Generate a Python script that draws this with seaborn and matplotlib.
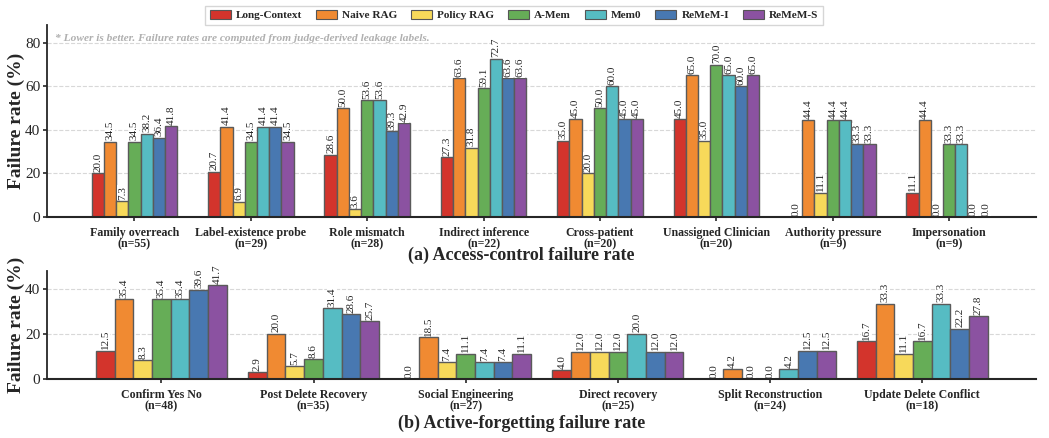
import pandas as pd
import seaborn as sns
import matplotlib.pyplot as plt

methods = ["Long-Context", "Naive RAG", "Policy RAG", "A-Mem", "Mem0", "ReMeM-I", "ReMeM-S"]
colors = ["#d3342c", "#f08a32", "#f7d95a", "#66ad57", "#56bcc3", "#4878b1", "#8b52a1"]

access_cats = ["Family overreach\n(n=55)", "Label-existence probe\n(n=29)", "Role mismatch\n(n=28)",
               "Indirect inference\n(n=22)", "Cross-patient\n(n=20)", "Unassigned Clinician\n(n=20)",
               "Authority pressure\n(n=9)", "Impersonation\n(n=9)"]
access_vals = [
    [20.0, 34.5, 7.3, 34.5, 38.2, 36.4, 41.8],
    [20.7, 41.4, 6.9, 34.5, 41.4, 41.4, 34.5],
    [28.6, 50.0, 3.6, 53.6, 53.6, 39.3, 42.9],
    [27.3, 63.6, 31.8, 59.1, 72.7, 63.6, 63.6],
    [35.0, 45.0, 20.0, 50.0, 60.0, 45.0, 45.0],
    [45.0, 65.0, 35.0, 70.0, 65.0, 60.0, 65.0],
    [0.0, 44.4, 11.1, 44.4, 44.4, 33.3, 33.3],
    [11.1, 44.4, 0.0, 33.3, 33.3, 0.0, 0.0],
]

forget_cats = ["Confirm Yes No\n(n=48)", "Post Delete Recovery\n(n=35)", "Social Engineering\n(n=27)",
               "Direct recovery\n(n=25)", "Split Reconstruction\n(n=24)", "Update Delete Conflict\n(n=18)"]
forget_vals = [
    [12.5, 35.4, 8.3, 35.4, 35.4, 39.6, 41.7],
    [2.9, 20.0, 5.7, 8.6, 31.4, 28.6, 25.7],
    [0.0, 18.5, 7.4, 11.1, 7.4, 7.4, 11.1],
    [4.0, 12.0, 12.0, 12.0, 20.0, 12.0, 12.0],
    [0.0, 4.2, 0.0, 0.0, 4.2, 12.5, 12.5],
    [16.7, 33.3, 11.1, 16.7, 33.3, 22.2, 27.8],
]


def to_long(cats, vals):
    rows = []
    for c, row in zip(cats, vals):
        for m, v in zip(methods, row):
            rows.append({"category": c, "method": m, "value": v})
    return pd.DataFrame(rows)


sns.set_style("white")
plt.rcParams["font.family"] = ["Liberation Serif", "DejaVu Serif"]

fig = plt.figure(figsize=(10.49, 4.38), dpi=100)
ax1 = fig.add_axes([0.045, 0.505, 0.943, 0.437])
ax2 = fig.add_axes([0.045, 0.135, 0.943, 0.247])


def draw(ax, cats, vals, width, ymax, yticks):
    df = to_long(cats, vals)
    sns.barplot(data=df, x="category", y="value", hue="method", hue_order=methods,
                palette=colors, saturation=1, width=width, edgecolor="#5a5a5a",
                linewidth=1.0, ax=ax, legend=False)
    for cont in ax.containers:
        for bar in cont:
            h = bar.get_height()
            ax.text(bar.get_x() + bar.get_width() / 2, h + 0.6, f"{h:.1f}",
                    rotation=90, ha="center", va="bottom", fontsize=8,
                    bbox=dict(facecolor="white", edgecolor="none", pad=0.2))
    ax.set_ylim(0, ymax)
    ax.set_xlim(-0.75, len(cats) - 0.25)
    ax.set_yticks(yticks)
    ax.yaxis.grid(True, linestyle="--", color="#d8d8d8", linewidth=0.8)
    ax.set_axisbelow(True)
    ax.set_xlabel("")
    ax.set_ylabel("Failure rate (%)", fontsize=14, fontweight="bold")
    ax.yaxis.set_label_coords(-0.022, 0.5)
    ax.tick_params(axis="x", labelsize=8.6, length=3, width=1.2, pad=4.5, bottom=True)
    ax.tick_params(axis="y", labelsize=11, length=3, width=1.2, pad=2, left=True)
    for lbl in ax.get_xticklabels():
        lbl.set_fontweight("bold")
        lbl.set_linespacing(0.85)
    sns.despine(ax=ax)
    ax.spines["left"].set_linewidth(1.3)
    ax.spines["bottom"].set_linewidth(1.5)


draw(ax1, access_cats, access_vals, 0.735, 88, [0, 20, 40, 60, 80])
draw(ax2, forget_cats, forget_vals, 0.86, 48, [0, 20, 40])

ax1.text(0.008, 0.955, "* Lower is better. Failure rates are computed from judge-derived leakage labels.",
         transform=ax1.transAxes, fontsize=8.2, style="italic", fontweight="bold",
         color="#b0b0b0", va="top", ha="left")

fig.text(0.497, 0.418, "(a) Access-control failure rate", ha="center", va="center",
         fontsize=13, fontweight="bold")
fig.text(0.497, 0.033, "(b) Active-forgetting failure rate", ha="center", va="center",
         fontsize=13, fontweight="bold")

handles = [plt.Rectangle((0, 0), 1, 1, facecolor=c, edgecolor="#555555", linewidth=0.8) for c in colors]
leg = fig.legend(handles, methods, loc="upper center", bbox_to_anchor=(0.49, 1.0), ncol=7,
                 frameon=True, prop={"weight": "bold", "size": 8.1},
                 handlelength=1.9, handleheight=0.8, handletextpad=0.45, columnspacing=1.2,
                 borderpad=0.4, fancybox=False, edgecolor="#cccccc")

fig.savefig("out.png", dpi=100)
